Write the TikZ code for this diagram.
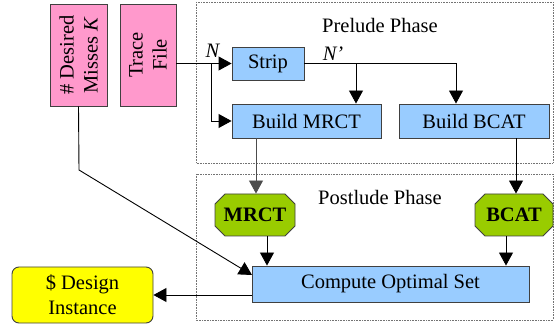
\documentclass[tikz,border=0pt]{standalone}
\usepackage{fontspec}
\setmainfont{Liberation Serif}
\usetikzlibrary{arrows.meta,shapes.misc}
\definecolor{pinkf}{HTML}{FF99CC}
\definecolor{bluef}{HTML}{99CCFF}
\definecolor{greenf}{HTML}{99CC00}
\definecolor{yellowf}{HTML}{FFFF00}
\begin{document}
\begin{tikzpicture}[x=1pt,y=-1pt,
  every node/.style={font=\fontsize{20.5}{24}\selectfont, inner sep=0pt},
  filebox/.style={draw=black!75, line width=0.9pt, fill=pinkf, minimum width=102pt, minimum height=57pt, align=center},
  procbox/.style={draw=black!75, line width=0.9pt, fill=bluef, minimum height=34pt},
  tablebox/.style={chamfered rectangle, chamfered rectangle xsep=9pt, draw=black!75, line width=0.9pt, fill=greenf, minimum height=42pt, font=\fontsize{20.5}{24}\selectfont\bfseries},
  phasebox/.style={draw=black!55, line width=0.6pt, densely dotted},
  arr/.style={draw=black, line width=0.9pt, -{Triangle[length=13pt,width=14pt]}},
  ln/.style={draw=black, line width=0.9pt}]
\useasboundingbox (0,0) rectangle (555,326);
% phase boxes
\draw[phasebox] (196,2) rectangle (553,163);
\draw[phasebox] (196,174) rectangle (553,320);
\node (pre) at (380,25) {Prelude Phase};
\node (post) at (380,197) {Postlude Phase};
% inputs
\node[filebox, rotate=90] (des) at (78.5,55) {\# Desired\\Misses \textit{K}};
\node[filebox, rotate=90, minimum height=56pt] (trace) at (148,55) {Trace\\File};
% prelude
\node[procbox, minimum width=72pt, minimum height=33pt] (strip) at (268,63.5) {Strip};
\node[procbox, minimum width=149pt] (bmrct) at (306.5,121) {Build MRCT};
\node[procbox, minimum width=150pt] (bbcat) at (474,121) {Build BCAT};
% postlude
\node[tablebox, minimum width=80pt] (mrct) at (255,215) {MRCT};
\node[tablebox, minimum width=78pt] (bcat) at (514,215) {BCAT};
\node[procbox, minimum width=277pt, minimum height=36pt] (comp) at (390.5,284) {Compute Optimal Set};
\node[draw=black!75, line width=0.9pt, fill=yellowf, rounded corners=7pt, minimum width=141pt, minimum height=56pt, align=center, font=\fontsize{20.5}{25}\selectfont] (design) at (82.5,295) {\$ Design\\Instance};
% labels
\node (lN) at (213,51) {\textit{N}};
\node (lNp) at (333,54) {\textit{N’}};
% connectors
\coordinate (ja) at (211,63.5);
\coordinate (jm) at (356,63.5);
\coordinate (jb) at (456,63.5);
\draw[arr] (strip.west -| trace.south) -- (strip.west);
\draw[arr] (ja) |- (bmrct.west);
\draw[ln] (strip.east) -- (jb);
\draw[arr] (jb) -- (jb |- bbcat.north);
\draw[arr] (jm) -- (jm |- bmrct.north);
\coordinate (m1) at (256,0);
\coordinate (b1) at (516,0);
\draw[arr, draw=black!70] (m1 |- bmrct.south) -- (m1 |- mrct.north);
\draw[arr] (b1 |- bbcat.south) -- (b1 |- bcat.north);
\coordinate (m2) at (267,0);
\coordinate (b2) at (506,0);
\draw[arr] (m2 |- mrct.south) -- (m2 |- comp.north);
\draw[arr] (b2 |- bcat.south) -- (b2 |- comp.north);
\coordinate (dk) at (79,170);
\coordinate (ce) at (252,275);
\draw[arr] (des.west) -- (dk) -- (ce);
\coordinate (co) at (252,295);
\draw[arr] (co) -- (co -| design.east);
\end{tikzpicture}
\end{document}
